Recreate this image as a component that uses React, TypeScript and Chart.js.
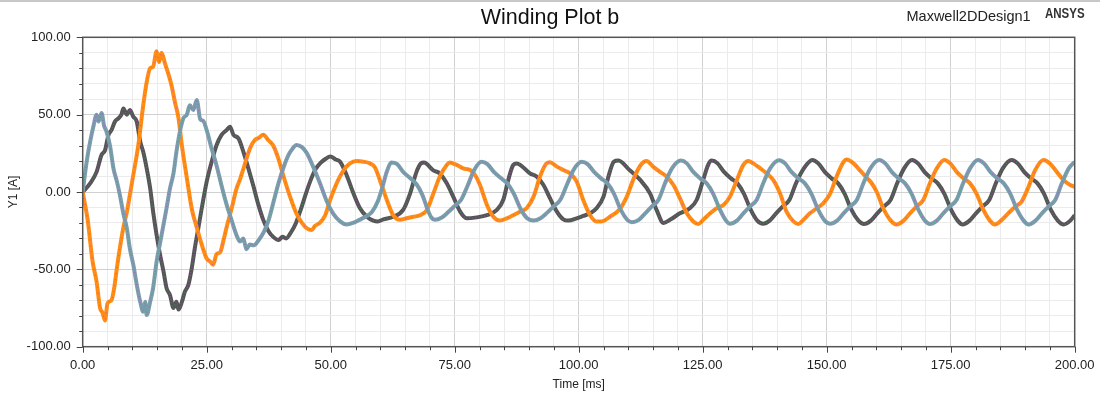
import React, { useEffect, useRef } from "react";
import { Chart, registerables } from "chart.js";

Chart.register(...registerables);

const chartTitle = "Winding Plot b";
const designName = "Maxwell2DDesign1";
const brandName = "ANSYS";
const xAxisTitle = "Time [ms]";
const yAxisTitle = "Y1 [A]";

const xMajorStep = 25;
const yMajorStep = 50;

// Phase A (orange)
const phaseATime = [0,1,2,2.8,3.5,4.0,4.5,5.0,5.8,6.3,6.9,7.5,8.2,8.9,9.5,10.2,11.2,12.2,12.9,13.6,14.2,14.9,15.4,15.9,16.6,17.3,17.9,18.6,19.3,20,21,22,23,24,25,25.7,26.3,27,27.7,28.4,29,30,31,31.7,32.4,33.7,34.7,35.5,36.4,37.4,38.4,39.4,40.5,41.8,43.1,44.2,45.2,46.2,46.8,47.8,48.9,49.9,51.2,52.6,53.9,55.2,56.6,57.9,58.9,59.9,61.3,62.6,64,65.3,66.7,68,69.4,70.7,72,73.4,74,75.4,76.7,78.1,79.1,80.1,81.5,82.8,84.1,85.5,86.8,88.2,89.5,90.9,92.2,93.5,94.2,95.6,96.9,98.3,99.6,100.9,102.3,103.6,104.6,106.3,108.3,109.7,111,112.4,113.7,115,116.4,117.7,119.1,120.4,121.8,123.1,124.1,125.1,126.5,127.8,129.2,130.5,131.9,133.2,134.2,135.2,136.6,137.9,139.2,140.6,141.9,143.3,144.3,145.3,146.6,148,149.3,150.7,152,153.4,154,155.4,156.7,158,159,160.1,161.4,162.8,164.1,165.5,166.8,168.1,169.5,170.8,172.2,173.7,174.9,176.2,177.6,178.9,180.2,181.6,182.9,183.9,185.3,186.6,188,189.3,190.7,192,193.7,195,196.4,197.7,199.1,200];
const phaseAValues = [0,-18,-45,-58,-75,-78,-83,-72,-70,-63,-49,-36,-23,-13,-2,11,30,56,71,80,81,91,84,90,83,76,69,58,48,30,9,-11,-23,-34,-43,-45,-47,-40,-39,-31,-23,-11,2,8,15,28,33.6,35,37,33.6,30,22,10,-3,-14,-20,-23.5,-24.6,-22,-20,-15,-5,5.6,14,18.5,20,19.6,18.5,16,7.8,-5,-15,-18,-17,-16,-15,-11.6,-1,10,17.5,19,17.5,15.3,14.2,11,4.5,-8.4,-16,-18.5,-17,-15,-12.7,-10.5,-3,10,18.5,19.2,16.4,14.2,12,6.7,-5,-15,-19,-19,-16,-11,-3,8,17,20,16.4,13,10,4.5,-4,-13.8,-19,-20.7,-18,-13.8,-10.5,-8.4,-3,7.8,17.5,20,18.5,15.3,12,7.8,-1,-12.7,-19,-20.7,-18,-13.8,-10.5,-7.3,-1,10,19.4,21,18.5,14,9.5,6,0,-10.5,-18,-21,-18.5,-13.8,-9.5,-5,5.6,15.3,20.7,18.5,13,8.8,5.6,-1,-11.6,-18.5,-21,-18,-13.8,-9.5,-6.2,3.4,14,20.7,18.5,13,7.8,4.5,3.4];

// Phase B (dark grey)
const phaseBTime = [0,1.5,2.8,3.8,4.5,5.2,5.8,6.5,7.2,7.8,8.2,8.9,9.5,10.2,10.9,11.6,12.2,12.9,13.6,14.2,14.9,15.6,16.3,16.9,17.6,18.3,18.9,19.3,20,20.6,21.3,22,22.6,23.3,24,25,26,27,28,29,29.7,30.4,31.4,32.4,33.4,34.4,35.4,36.4,37.4,38.4,39.5,40.3,41,42,43,44,45,46,47,48,49,49.9,51,51.9,53.2,54.6,55.9,57.3,58.6,59.5,60.6,62.6,64.6,66,67.3,68.2,68.8,70.7,72,73.4,74.7,76.1,77.4,79.4,81.5,83.5,84.8,85.8,86.8,87.5,90.2,91.5,92.9,94.2,95.6,96.9,97.9,99.6,100.9,102.3,103.6,105,106,107.1,108,110.3,112.4,114.4,115.7,117.1,118.4,120.4,122.4,123.8,125.1,126.1,126.8,128,129.3,130.7,132,133.3,134.7,136,137.2,138.5,139.8,141.1,142.5,143.8,145.4,147.1,148.3,149.6,151,152.3,153.6,155,156.4,157.5,158.9,160.2,161.5,162.9,164.2,165.6,167.2,168.4,169.7,171.1,172.4,173.7,175.1,176.4,177.4,178.8,180.1,181.4,182.8,184.1,185.5,187.3,188.5,189.8,191.2,192.5,193.8,195.2,196.6,197.8,199.1,200];
const phaseBValues = [0,5.6,13,24,27,37,40,45.5,47.6,50,54,50,53,48.7,45.5,32.5,26,15.3,2.4,-12.7,-27.8,-40.7,-51.5,-62,-66.6,-75,-71,-76,-71,-64.4,-60,-49,-36.4,-23.5,-10.5,6.7,19.6,30.4,36.9,40,42.2,36.9,34.7,26,15.3,4,-8,-18,-25,-29,-31,-29,-30,-26,-20,-11,-1,8,15,19,21.5,23,21,19.6,11,-1,-10.5,-16,-18.5,-19,-17.7,-16,-11.6,-1,13,18.5,19,14,12,5.6,-3,-12.7,-17,-16.4,-15,-11.6,-5,7.8,17.5,18.5,12,10,4.5,-4,-12.7,-17.7,-18.5,-17,-15.5,-13.8,-10.5,-3,10,19.6,20.3,14,7.8,-1,-11.6,-20,-18,-13.8,-10.5,-5,7.8,17.5,20.3,18.5,13,8.8,5.6,-1,-11.6,-18.5,-20.5,-18.5,-13.8,-9.5,-5,5.6,15.3,20.7,18.5,13,8.8,5.6,-1,-11.6,-18.5,-20.7,-18.5,-13.8,-9.5,-5,5.6,15.3,20.7,18.5,13,8.8,5.6,-1,-11.6,-18.5,-21,-18.5,-13.8,-9.5,-5,5.6,15.3,20.7,18.5,13,8.8,5.6,-1,-11.6,-18.5,-21,-18.5,-15];

// Phase C (blue grey)
const phaseCTime = [0,0.8,1.5,2.2,2.8,3.2,3.8,4.3,4.8,5.5,6.2,6.9,7.5,8.2,8.9,9.5,10.2,10.9,11.6,12.2,12.6,12.9,13.6,14.2,14.9,15.6,16.3,16.9,17.6,18.3,18.9,19.6,20.3,21,21.6,22.3,23,23.7,24.3,25,26,27,28,29,30,31,31.7,32.4,33,33.7,34.5,35.5,36.5,37.5,38.5,39.5,40.5,41.5,42.3,43.1,44.2,45.2,46.5,47.8,49.2,50.5,51.9,53.2,54.5,55.8,57,58.3,59.5,60.5,61.3,62.2,63.4,64.6,66,67.3,68.5,69.5,70.3,71,72.4,73.7,75,76.3,77.6,78.9,80.4,81.6,82.9,84.3,85.6,86.9,88.3,89.6,90.9,92.3,93.6,94.9,96.3,97.6,99,100.6,101.8,103.1,104.5,105.8,107.1,108.5,109.8,110.7,112.1,113.4,114.7,116.1,117.4,118.8,120.6,121.8,123.1,124.5,125.8,127.1,128.5,129.7,130.5,131.9,133.2,134.5,135.9,137.2,138.6,140.4,141.6,142.9,144.3,145.6,146.9,148.3,149.6,150.7,152.1,153.4,154.7,156.1,157.4,158.8,160.6,161.8,163.1,164.5,165.8,167.1,168.5,169.8,170.8,172.2,173.5,174.8,176.2,177.5,178.9,180.5,181.7,183,184.4,185.7,187,188.4,189.7,190.7,192.1,193.4,194.7,196.1,197.4,198.8,200];
const phaseCValues = [0,19.6,32.5,43,50,45.5,51,43,39,30,15.3,6.7,-2,-14,-23.5,-36.4,-47,-60,-71,-77.4,-71,-79.5,-71,-62,-45,-33,-21,-10.5,2.4,12,26,39,47.6,50,56,53,59.5,47,46,40,28,17,4,-8,-18,-27.8,-32,-30,-37,-34,-34.5,-31,-26,-18,-6,6,16,24,28,30.4,29,25,16,6,-6,-14,-19,-21,-20,-18,-16,-13,-6,4,13,19,18,13,9,5,-2,-11,-16.5,-18,-16.5,-13,-9,-5,4,14,19.5,18,13,9,5.6,-1,-11,-17,-18.5,-17,-13.5,-9.5,-5,4.5,14.5,19.5,18,13,8.8,5.6,-1,-11.6,-18,-19.5,-18,-13.8,-9.5,-5,5.6,15.3,20.3,18.5,13,8.8,5.6,-1,-11.6,-18.5,-20.5,-18.5,-13.8,-9.5,-5,5.6,15.3,20.5,18.5,13,8.8,5.6,-1,-11.6,-18.5,-20.5,-18.5,-13.8,-9.5,-5,5.6,15.3,20.7,18.5,13,8.8,5.6,-1,-11.6,-18.5,-20.7,-18.5,-13.8,-9.5,-5,5.6,15.3,20.7,18.5,13,8.8,5.6,-1,-11.6,-18.5,-21,-18.5,-13.8,-9.5,-5,5.6,15.3,19.5];

// colours of the overlaid winding traces that show as speckles
const traceSpeckleColors = ["rgba(200,60,220,0.55)", "rgba(40,190,90,0.5)"];

const FONT = "'Liberation Sans', Arial, sans-serif";

const toXY = (t: number[], v: number[]) => t.map((x, i) => ({ x, y: v[i] }));

const decorPlugin = {
  id: "decor",
  afterDraw(chart: any) {
    const ctx = chart.ctx as CanvasRenderingContext2D;
    const area = chart.chartArea;
    const xs = chart.scales.x;
    const ys = chart.scales.y;
    ctx.save();
    ctx.strokeStyle = "#c8c8c8";
    ctx.lineWidth = 2;
    ctx.beginPath();
    ctx.moveTo(0, 1);
    ctx.lineTo(chart.width, 1);
    ctx.stroke();

    ctx.strokeStyle = "#555";
    ctx.lineWidth = 1.5;
    ctx.strokeRect(area.left, area.top, area.right - area.left, area.bottom - area.top);

    ctx.strokeStyle = "#444";
    ctx.lineWidth = 1;
    ctx.beginPath();
    for (const tk of xs.ticks) {
      const v = Math.round(tk.value);
      const px = Math.round(xs.getPixelForValue(v)) + 0.5;
      const len = v % xMajorStep === 0 ? 6 : 3.5;
      ctx.moveTo(px, area.bottom);
      ctx.lineTo(px, area.bottom + len);
    }
    for (const tk of ys.ticks) {
      const v = Math.round(tk.value);
      const py = Math.round(ys.getPixelForValue(v)) + 0.5;
      const len = v % yMajorStep === 0 ? 6 : 3.5;
      ctx.moveTo(area.left, py);
      ctx.lineTo(area.left - len, py);
    }
    ctx.stroke();

    ctx.fillStyle = "#111";
    ctx.textBaseline = "middle";
    ctx.textAlign = "center";
    ctx.font = `21.5px ${FONT}`;
    ctx.fillText(chartTitle, chart.width / 2, 18);

    ctx.textAlign = "left";
    ctx.fillStyle = "#222";
    ctx.font = `14.5px ${FONT}`;
    ctx.fillText(designName, 906.5, 17);

    ctx.fillStyle = "#333";
    ctx.font = `bold 14px ${FONT}`;
    ctx.translate(1045, 14);
    ctx.scale(0.82, 1);
    ctx.fillText(brandName, 0, 0);
    ctx.restore();
  },
};

export default function App() {
  const canvasRef = useRef<HTMLCanvasElement | null>(null);

  useEffect(() => {
    if (!canvasRef.current) return;
    const lineOpts = {
      borderWidth: 4,
      pointRadius: 0,
      cubicInterpolationMode: "monotone" as const,
      fill: false,
    };
    const speckle = (data: any, idx: number) => ({
      data,
      borderColor: traceSpeckleColors[idx],
      borderWidth: 1.3,
      borderDash: [1, 5],
      borderDashOffset: idx * 3,
      pointRadius: 0,
      cubicInterpolationMode: "monotone" as const,
      fill: false,
    });
    const dataA = toXY(phaseATime, phaseAValues);
    const dataB = toXY(phaseBTime, phaseBValues);
    const dataC = toXY(phaseCTime, phaseCValues);
    const chart = new Chart(canvasRef.current, {
      type: "line",
      data: {
        datasets: [
          { label: "Phase C traces", ...speckle(dataC, 0) },
          { label: "Phase C traces 2", ...speckle(dataC, 1) },
          { label: "Phase C", data: dataC, borderColor: "#7b9dad", ...lineOpts },
          { label: "Phase A traces", ...speckle(dataA, 0) },
          { label: "Phase A", data: dataA, borderColor: "#ff8c14", ...lineOpts },
          { label: "Phase B traces", ...speckle(dataB, 0) },
          { label: "Phase B traces 2", ...speckle(dataB, 1) },
          { label: "Phase B", data: dataB, borderColor: "#555555", ...lineOpts },
        ],
      },
      options: {
        responsive: false,
        animation: false,
        devicePixelRatio: 1,
        events: [],
        layout: { padding: { left: 0, right: 25.3, top: 37.3, bottom: 0 } },
        plugins: {
          legend: { display: false },
          tooltip: { enabled: false },
          title: { display: false },
        },
        scales: {
          x: {
            type: "linear",
            min: 0,
            max: 200,
            border: { display: false },
            grid: {
              drawTicks: false,
              lineWidth: 1,
              color: (c: any) =>
                c.tick && Math.round(c.tick.value) % xMajorStep === 0 ? "#d0d0d0" : "#ebebeb",
            },
            ticks: {
              stepSize: 5,
              autoSkip: false,
              maxRotation: 0,
              padding: 10.5,
              color: "#222",
              font: { family: FONT, size: 13 },
              callback: (v: any) => (Math.round(v) % xMajorStep === 0 ? Number(v).toFixed(2) : ""),
            },
            title: {
              display: true,
              text: xAxisTitle,
              color: "#222",
              font: { family: FONT, size: 12 },
              padding: { top: 0, bottom: 4 },
            },
            afterFit: (s: any) => {
              s.height = 49.3;
              s.paddingLeft = 0;
              s.paddingRight = 0;
            },
          },
          y: {
            type: "linear",
            min: -100,
            max: 100,
            border: { display: false },
            grid: {
              drawTicks: false,
              lineWidth: 1,
              color: (c: any) =>
                c.tick && Math.round(c.tick.value) % yMajorStep === 0 ? "#d0d0d0" : "#ebebeb",
            },
            ticks: {
              stepSize: 10,
              autoSkip: false,
              padding: 12,
              color: "#222",
              font: { family: FONT, size: 13 },
              callback: (v: any) => (Math.round(v) % yMajorStep === 0 ? Number(v).toFixed(2) : ""),
            },
            title: {
              display: true,
              text: yAxisTitle,
              color: "#222",
              font: { family: FONT, size: 12 },
              padding: { top: 6, bottom: 0 },
            },
            afterFit: (s: any) => {
              s.width = 82.7;
              s.paddingTop = 0;
              s.paddingBottom = 0;
            },
          },
        },
      },
      plugins: [decorPlugin],
    } as any);
    return () => chart.destroy();
  }, []);

  return (
    <div style={{ position: "fixed", left: 0, top: 0, width: 1100, height: 396, background: "#fff" }}>
      <canvas ref={canvasRef} width={1100} height={396} style={{ display: "block", width: 1100, height: 396 }} />
    </div>
  );
}
